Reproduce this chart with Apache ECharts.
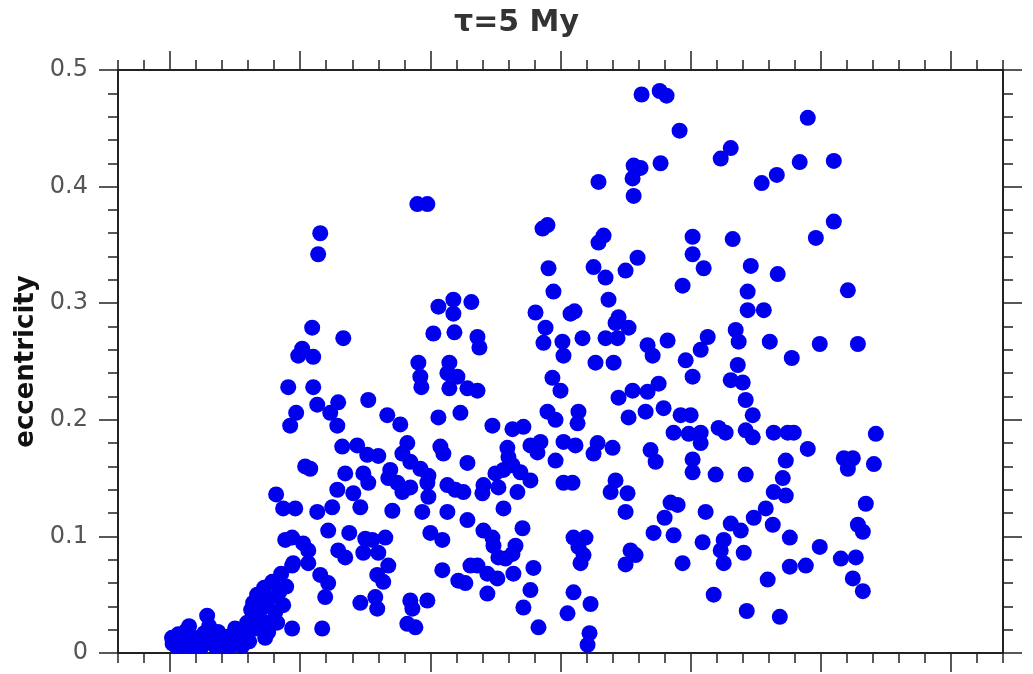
<!DOCTYPE html>
<html>
<head>
<meta charset="utf-8">
<script src="https://cdn.jsdelivr.net/npm/echarts@6/dist/echarts.min.js"></script>
<style>
html,body{margin:0;padding:0;background:#fff;}
#chart{width:1033px;height:674px;}
</style>
</head>
<body>
<div id="chart"></div>
<script>
const titleText = 'τ=5 My';
const yName = 'eccentricity';
const xMajorTicks = [0, 1, 2, 3, 4, 5, 6];
const yTicks = [0, 0.1, 0.2, 0.3, 0.4, 0.5];

// [x (arbitrary axis units), eccentricity]
const innerCluster = [
[0.02,0.008],[0.015,0.013],[0.046,0.006],[0.062,0.016],[0.1,0.009],[0.123,0.019],[0.146,0.023],[0.154,0.006],[0.185,0.013],[0.215,0.008],[0.246,0.006],[0.262,0.017],[0.285,0.032],[0.3,0.023],[0.315,0.011],[0.346,0.006],[0.369,0.018],[0.392,0.01],[0.423,0.006],[0.446,0.014],[0.477,0.007],[0.5,0.021],[0.523,0.011],[0.554,0.006],[0.569,0.016],[0.592,0.026],[0.608,0.01],[0.623,0.037],[0.638,0.043],[0.654,0.021],[0.669,0.05],[0.685,0.031],[0.708,0.039],[0.723,0.056],[0.731,0.013],[0.746,0.026],[0.769,0.047],[0.785,0.061],[0.808,0.035],[0.823,0.026],[0.838,0.052],[0.854,0.068],[0.869,0.041],[0.892,0.057],[0.938,0.075],[0.938,0.021],[0.754,0.018],[0.077,0.006],[0.2,0.006],[0.462,0.006]
];
const bandOne = [
[0.908,0.228],[1.1,0.228],[1.131,0.213],[1.292,0.215],[0.969,0.206],[0.923,0.195],[1.231,0.206],[1.285,0.195],[1.323,0.177],[1.038,0.16],[1.077,0.158],[1.346,0.154],[1.285,0.14],[0.815,0.136],[0.869,0.124],[0.962,0.124],[1.131,0.121],[1.246,0.125],[1.215,0.105],[1.377,0.103],[0.885,0.097],[0.938,0.099],[1.023,0.094],[1.062,0.088],[1.292,0.088],[1.346,0.082],[0.946,0.077],[1.062,0.077],[1.154,0.067],[1.215,0.06],[1.192,0.048],[1.169,0.021],
[1.154,0.36],[1.138,0.342],[1.092,0.279],[1.331,0.27],[1.015,0.261],[0.985,0.255],[1.1,0.254]
];
const bandTwo = [
[1.523,0.217],[1.669,0.204],[1.769,0.196],[1.9,0.385],[1.977,0.385],[2.062,0.297],[2.177,0.303],[2.177,0.291],[2.315,0.301],[2.023,0.274],[2.185,0.275],[2.362,0.271],[2.377,0.262],[1.908,0.249],[1.923,0.237],[1.931,0.228],[2.146,0.249],[2.131,0.24],[2.208,0.237],[2.146,0.227],[2.285,0.227],[2.362,0.225],[2.062,0.202],[2.231,0.206],[2.477,0.195],[2.631,0.192],[2.715,0.194],
[1.438,0.178],[1.515,0.17],[1.6,0.169],[1.823,0.18],[1.785,0.171],[1.846,0.164],[1.923,0.158],[1.985,0.152],[2.077,0.177],[2.1,0.171],[2.285,0.163],[2.592,0.176],[2.6,0.168],[2.769,0.178],[2.846,0.181],[2.823,0.172],[2.962,0.165],[3.023,0.181],[3.115,0.178],[2.9,0.207],[2.962,0.2],[3.131,0.197],
[1.485,0.154],[1.523,0.146],[1.408,0.137],[1.462,0.125],[1.692,0.157],[1.677,0.15],[1.746,0.146],[1.785,0.138],[1.846,0.142],[1.977,0.146],[1.985,0.134],[1.708,0.122],[1.938,0.121],[2.131,0.144],[2.192,0.14],[2.254,0.138],[2.131,0.121],[2.285,0.114],[2.408,0.144],[2.4,0.137],[2.5,0.154],[2.523,0.142],[2.562,0.157],[2.631,0.161],[2.692,0.155],[2.769,0.148],[2.669,0.138],[2.562,0.124],[3.023,0.146],[3.092,0.146],[2.708,0.107],
[1.5,0.098],[1.554,0.097],[1.654,0.099],[1.485,0.086],[1.6,0.086],[1.677,0.075],[1.592,0.067],[1.638,0.061],[2,0.103],[2.092,0.097],[2.408,0.105],[2.477,0.099],[2.485,0.092],[2.654,0.092],[2.577,0.081],[2.523,0.082],[2.631,0.085],[2.308,0.075],[2.362,0.075],[2.438,0.068],[2.515,0.064],[2.638,0.068],[2.092,0.071],[2.215,0.062],[2.269,0.06],[2.438,0.051],[2.792,0.073],[2.769,0.054],[2.715,0.039],[2.831,0.022],[3.054,0.034],[3.1,0.052],[3.1,0.099],[3.138,0.091],
[1.462,0.043],[1.577,0.048],[1.592,0.038],[1.846,0.045],[1.977,0.045],[1.862,0.038],[1.823,0.025],[1.885,0.022]
];
const bandThree = [
[3.562,0.418],[3.615,0.416],[3.769,0.42],[3.554,0.407],[3.292,0.404],[3.562,0.392],[2.9,0.367],[2.862,0.364],[3.331,0.358],[3.292,0.352],[4.015,0.357],[4.323,0.355],[4.015,0.342],[4.1,0.33],[2.908,0.33],[3.254,0.331],[3.346,0.322],[3.5,0.328],[3.592,0.339],[4.462,0.332],[3.938,0.315],[2.946,0.31],[3.369,0.303],[2.808,0.292],[3.077,0.291],[3.108,0.293],[2.885,0.279],[2.869,0.266],[3.015,0.267],[3.023,0.255],[3.169,0.27],[3.446,0.288],[3.423,0.283],[3.523,0.279],[3.346,0.27],[3.438,0.27],[3.669,0.264],[3.708,0.255],[3.823,0.268],[4.131,0.271],[4.077,0.26],[3.962,0.251],[4.015,0.237],[4.346,0.277],[4.369,0.267],[4.438,0.31],[4.438,0.294],[3.269,0.249],[3.408,0.249],[2.938,0.236],[3,0.225],[3.446,0.219],[3.554,0.225],[3.669,0.224],[3.754,0.231],[3.138,0.207],[3.523,0.202],[3.654,0.207],[3.792,0.21],[3.923,0.204],[4,0.204],[4.362,0.247],[4.308,0.234],[4.4,0.232],[4.423,0.217],[4.231,0.424],[4.308,0.433],
[3.623,0.479],[3.762,0.482],[3.815,0.478],[3.915,0.448],
[3.869,0.189],[3.985,0.188],[4.077,0.189],[4.077,0.18],[4.215,0.193],[4.269,0.189],[3.285,0.18],[3.254,0.171],[3.4,0.176],[3.692,0.174],[3.731,0.164],[4.015,0.166],[4.015,0.155],[4.192,0.153],[3.423,0.148],[3.385,0.138],[3.515,0.137],[3.5,0.121],[3.846,0.129],[3.9,0.127],[3.8,0.116],[4.115,0.121],[4.308,0.111],[3.715,0.103],[3.869,0.101],[4.092,0.095],[4.254,0.097],[4.231,0.088],[4.254,0.077],[3.192,0.099],[3.177,0.084],[3.154,0.077],[3.538,0.088],[3.577,0.084],[3.5,0.076],[3.938,0.077],[3.231,0.042],[3.223,0.017],[3.208,0.007],[4.177,0.05]
];
const outerBand = [
[4.9,0.459],[4.838,0.421],[5.1,0.422],[4.662,0.41],[4.546,0.403],[5.1,0.37],[4.962,0.356],[4.669,0.325],[5.208,0.311],[4.562,0.294],[4.608,0.267],[4.992,0.265],[5.285,0.265],[4.777,0.253],[4.477,0.204],
[4.423,0.191],[4.477,0.185],[4.638,0.189],[4.746,0.189],[4.792,0.189],[4.9,0.175],[5.423,0.188],[4.731,0.165],[5.177,0.167],[5.246,0.167],[5.208,0.158],[5.408,0.162],[4.423,0.153],[4.708,0.15],[4.638,0.138],[4.731,0.135],[5.346,0.128],[4.577,0.124],[4.485,0.116],[4.631,0.11],[4.385,0.105],[5.285,0.11],[5.323,0.104],[4.762,0.099],[4.992,0.091],[4.408,0.086],[5.154,0.081],[5.269,0.082],[4.762,0.074],[4.885,0.075],[4.592,0.063],[5.246,0.064],[5.323,0.053],[4.431,0.036],[4.685,0.031]
];

const allPoints = [].concat(innerCluster, bandOne, bandTwo, bandThree, outerBand);

const FONT = 'DejaVu Sans';
const AX = '#222';
const X_MIN = -0.4, X_MAX = 6.4;

function xMinorAxis(pos) {
  return {
    type: 'value', position: pos, min: X_MIN, max: X_MAX, interval: 0.2,
    axisLine: { show: true, onZero: false, lineStyle: { color: AX, width: 2 } },
    axisTick: { show: true, inside: false, length: 10, lineStyle: { color: AX, width: 1.5 } },
    axisLabel: { show: false }, splitLine: { show: false }
  };
}
function xMajorAxis(pos) {
  return {
    type: 'value', position: pos, min: X_MIN, max: X_MAX,
    axisLine: { show: false, onZero: false },
    axisTick: { show: true, inside: false, length: 19, customValues: xMajorTicks, lineStyle: { color: AX, width: 1.5 } },
    axisLabel: { show: false, customValues: xMajorTicks }, splitLine: { show: false }
  };
}
function yAxisDef(pos, labels) {
  return {
    type: 'value', position: pos, min: yTicks[0], max: yTicks[yTicks.length - 1], interval: 0.1,
    axisLine: { show: true, onZero: false, lineStyle: { color: AX, width: 2 } },
    axisTick: { show: true, inside: false, length: 19, lineStyle: { color: AX, width: 1.5 } },
    minorTick: { show: true, splitNumber: 5, length: 10, lineStyle: { color: AX, width: 1.5 } },
    axisLabel: { show: labels, fontFamily: FONT, fontSize: 24, color: '#555', margin: 30 },
    splitLine: { show: false }, minorSplitLine: { show: false },
    name: labels ? yName : '', nameLocation: 'middle', nameGap: 73,
    nameTextStyle: { fontFamily: FONT, fontWeight: 'bold', fontSize: 26, color: '#111' }
  };
}

const chart = echarts.init(document.getElementById('chart'), null, { renderer: 'canvas' });
chart.setOption({
  animation: false,
  backgroundColor: '#fff',
  title: {
    text: titleText, left: 'center', top: 3,
    textStyle: { fontFamily: FONT, fontWeight: 'bold', fontSize: 30, color: '#333' }
  },
  grid: { left: 118, right: 30, top: 70, bottom: 21, containLabel: false },
  xAxis: [xMinorAxis('bottom'), xMajorAxis('bottom'), xMinorAxis('top'), xMajorAxis('top')],
  yAxis: [yAxisDef('left', true), yAxisDef('right', false)],
  series: [{
    type: 'scatter', xAxisIndex: 0, yAxisIndex: 0,
    symbol: 'circle', symbolSize: 16,
    itemStyle: { color: '#0000ee', opacity: 1 },
    data: allPoints
  }]
});
</script>
</body>
</html>
